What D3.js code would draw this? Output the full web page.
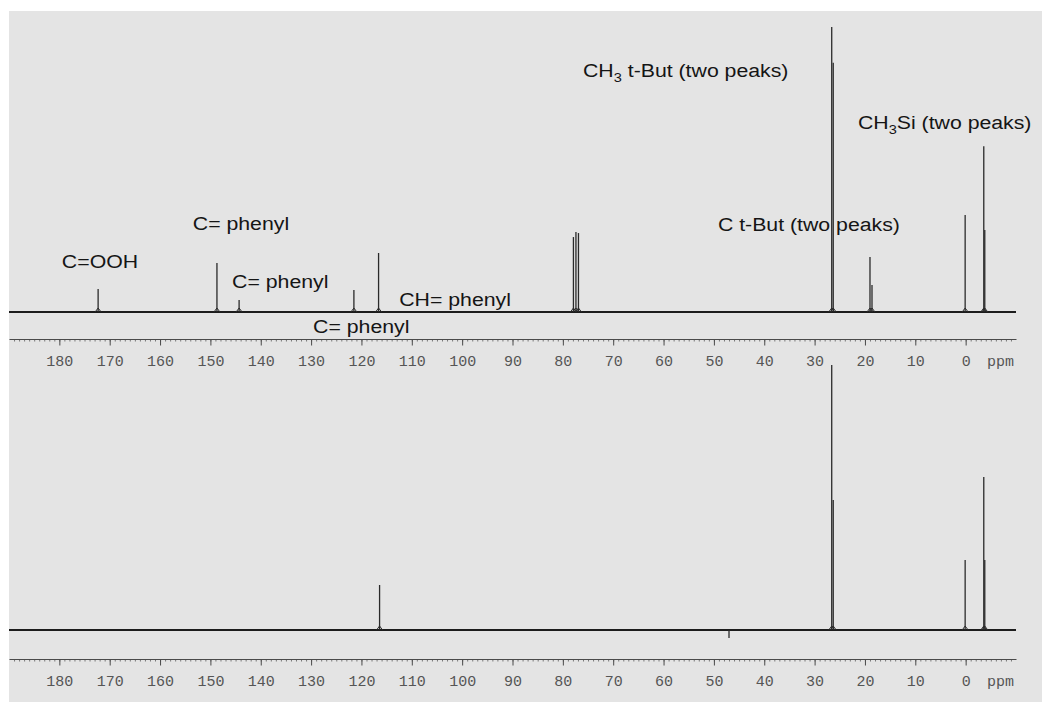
<!DOCTYPE html>
<html>
<head>
<meta charset="utf-8">
<script src="https://cdn.jsdelivr.net/npm/d3@7"></script>
<style>
  html, body { margin: 0; padding: 0; background: #ffffff; }
  svg { display: block; }
</style>
</head>
<body>
<svg id="chart" width="1042" height="702"></svg>
<script>
// 13C NMR spectra (ppm) — top: compound in CDCl3, bottom: second spectrum
const ppmDomain = [190, -10];
const majorTicks = [180, 170, 160, 150, 140, 130, 120, 110, 100, 90, 80, 70, 60, 50, 40, 30, 20, 10, 0];

// upper spectrum peaks: shift (ppm) and relative height
const upperShifts  = [172.3, 148.7, 144.3, 121.5, 116.6, 77.9, 77.4, 76.9, 26.6, 26.3, 19.0, 18.6, 0.1, -3.6, -3.8];
const upperHeights = [8.1, 17.2, 4.2, 7.7, 20.7, 26.3, 28.1, 27.7, 100, 87.5, 19.3, 9.5, 34.0, 58.2, 28.8];

// lower spectrum peaks
const lowerShifts  = [116.4, 47.0, 26.6, 26.3, 0.1, -3.6, -3.8];
const lowerHeights = [15.8, -2.8, 93.0, 45.6, 24.6, 53.7, 24.6];

// peak assignments (text, ppm, height where the label sits)
const labelTexts = ["C=OOH", "C= phenyl", "C= phenyl", "CH= phenyl", "C= phenyl", "C t-But (two peaks)", "CH|3| t-But (two peaks)", "CH|3|Si (two peaks)"];
const labelPpm    = [179.5, 153.5, 145.7, 112.5, 129.6, 49.2, 76.0, 21.4];
const labelHeight = [15.4, 28.8, 8.4, 2.1, -7.4, 28.4, 82.5, 64.2];

const svg = d3.select("#chart");
const W = 1042, H = 702;

// scanned-paper background with white margin on top and left
svg.append("rect").attr("x", 9).attr("y", 11).attr("width", W - 9).attr("height", H - 11)
  .attr("fill", "#e4e4e4");

const x = d3.scaleLinear().domain(ppmDomain).range([9, 1016]);

function drawPanel(baseY, axisY, shifts, heights) {
  const y = d3.scaleLinear().domain([0, 100]).range([baseY, baseY - 285]);
  const g = svg.append("g");

  // baseline
  g.append("line")
    .attr("x1", x(ppmDomain[0])).attr("x2", x(ppmDomain[1]))
    .attr("y1", y(0)).attr("y2", y(0))
    .attr("stroke", "#1c1c1c").attr("stroke-width", 2.2);

  // peaks
  const peaks = shifts.map((s, i) => ({ s, h: heights[i] }));
  g.selectAll("line.peak").data(peaks).join("line")
    .attr("class", "peak")
    .attr("x1", d => x(d.s)).attr("x2", d => x(d.s))
    .attr("y1", y(0)).attr("y2", d => y(d.h))
    .attr("stroke", "#2a2a2a").attr("stroke-width", 1.3);

  // small broadened feet at the base of each peak
  g.selectAll("path.foot").data(peaks.filter(d => d.h > 0)).join("path")
    .attr("class", "foot")
    .attr("d", d => `M${x(d.s) - 3},${y(0)} L${x(d.s)},${y(0) - 4} L${x(d.s) + 3},${y(0)}`)
    .attr("fill", "none").attr("stroke", "#2a2a2a").attr("stroke-width", 1);

  // ppm axis: minor ticks every 1 ppm, major every 10 ppm
  const minorTicks = d3.range(189, -10, -1);
  const minorAxis = d3.axisBottom(x).tickValues(minorTicks).tickSize(2.5).tickFormat("");
  const ma = g.append("g").attr("transform", `translate(0,${axisY})`).call(minorAxis);
  ma.select(".domain").remove();
  ma.selectAll("line").attr("stroke", "#5a5a5a").attr("stroke-width", 0.8);

  const majorAxis = d3.axisBottom(x).tickValues(majorTicks).tickSize(6.5).tickPadding(10)
    .tickFormat(d3.format("d")).tickSizeOuter(0);
  const ax = g.append("g").attr("transform", `translate(0,${axisY})`).call(majorAxis);
  ax.select(".domain").attr("stroke", "#4a4a4a").attr("stroke-width", 1.1);
  ax.selectAll(".tick line").attr("stroke", "#4a4a4a").attr("stroke-width", 1);
  ax.selectAll(".tick text")
    .attr("fill", "#555")
    .style("font-family", "'Courier New', 'Liberation Mono', monospace")
    .style("font-size", "15px");

  g.append("text")
    .attr("x", 987).attr("y", axisY + 16.5).attr("dy", "0.71em")
    .attr("fill", "#555")
    .style("font-family", "'Courier New', 'Liberation Mono', monospace")
    .style("font-size", "15px")
    .text("ppm");

  return y;
}

const yUpper = drawPanel(312, 339, upperShifts, upperHeights);
drawPanel(630, 659, lowerShifts, lowerHeights);

// assignment labels on the upper spectrum
labelTexts.forEach((t, i) => {
  const tx = x(labelPpm[i]), ty = yUpper(labelHeight[i]);
  const text = svg.append("text")
    .attr("transform", `translate(${tx},${ty}) scale(1.12,1)`)
    .attr("fill", "#151515")
    .style("font-family", "Arial, 'Liberation Sans', sans-serif")
    .style("font-size", "19px");
  t.split("|").forEach((part, j) => {
    if (!part.length) return;
    const sub = j % 2 === 1;
    text.append("tspan")
      .attr("dy", sub ? 5 : (j > 0 ? -5 : 0))
      .style("font-size", sub ? "13px" : null)
      .text(part);
  });
});
</script>
</body>
</html>
